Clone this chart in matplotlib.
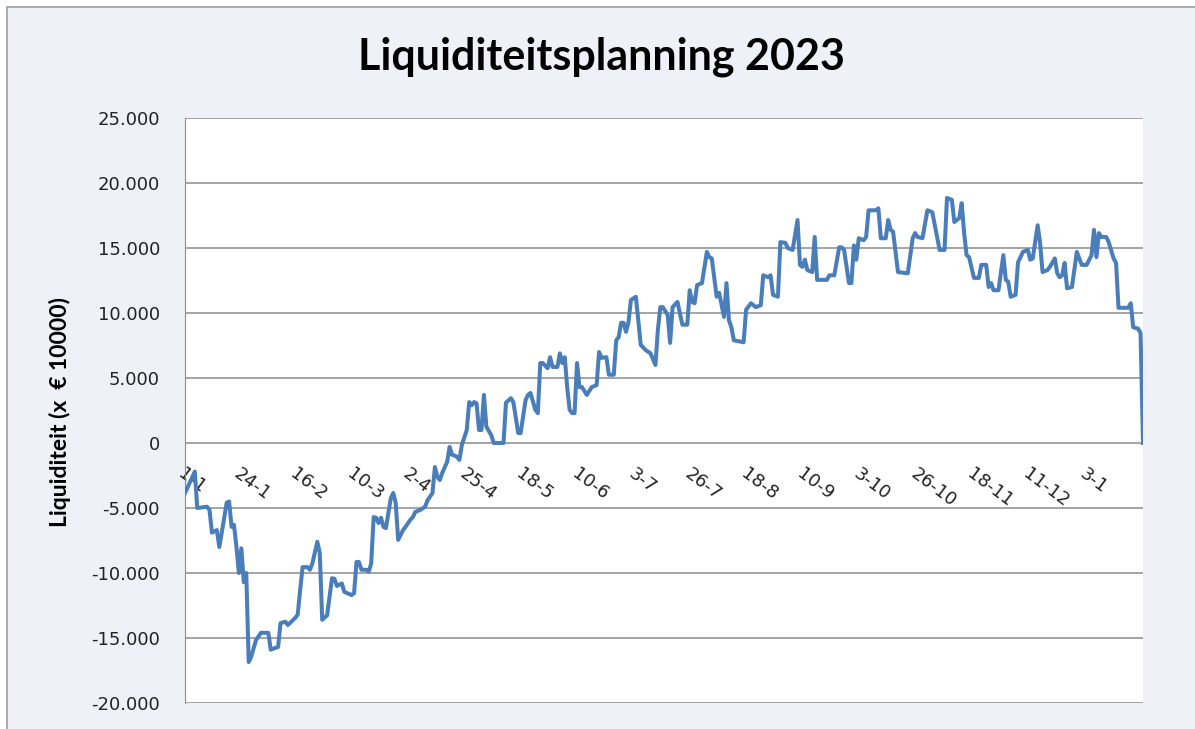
import matplotlib
import matplotlib.pyplot as plt
from matplotlib.patches import Rectangle
from matplotlib.ticker import FuncFormatter

matplotlib.use('agg')

# day index (0 = 1-1) and liquidity value at each turning point of the line
days = [0, 4, 5, 9, 10, 11, 13, 14, 15, 17, 18, 19, 20, 21, 22, 23, 24, 25, 26, 27,
        29, 31, 34, 35, 37, 38, 39, 41, 42, 45, 46, 47, 48, 50, 51, 52, 54, 55, 56, 58,
        60, 61, 62, 64, 65, 68, 69, 70, 71, 72, 74, 75, 76, 77, 78, 79, 80, 81, 82, 84,
        85, 86, 87, 89, 90, 92, 93, 94, 96, 98, 99, 101, 102, 103, 104, 105, 107, 108, 109, 111,
        112, 113, 115, 116, 117, 118, 119, 120, 121, 122, 123, 125, 126, 130, 131, 133, 134, 136, 137, 139,
        140, 141, 143, 144, 145, 146, 148, 149, 150, 152, 153, 154, 155, 156, 157, 158, 159, 160, 161, 162,
        164, 166, 168, 169, 170, 172, 173, 175, 176, 177, 178, 179, 180, 181, 182, 184, 185, 186, 188, 190,
        192, 193, 194, 195, 197, 198, 199, 201, 203, 205, 206, 207, 208, 209, 211, 213, 214, 215, 217, 218,
        220, 221, 222, 223, 224, 228, 229, 231, 233, 235, 236, 238, 239, 240, 242, 243, 245, 246, 248, 250,
        251, 252, 253, 254, 256, 257, 258, 262, 263, 265, 267, 268, 269, 271, 272, 273, 274, 275, 277, 278,
        279, 282, 283, 284, 286, 287, 288, 289, 291, 295, 297, 298, 299, 301, 303, 305, 308, 310, 311, 313,
        314, 316, 317, 318, 319, 320, 322, 324, 325, 327, 328, 329, 330, 332, 334, 335, 336, 337, 339, 340,
        342, 344, 345, 346, 348, 349, 350, 352, 353, 355, 356, 357, 358, 359, 360, 362, 364, 365, 366, 368,
        370, 371, 372, 373, 374, 376, 377, 379, 380, 381, 385, 386, 387, 389, 390, 391]

liquiditeit = [-3850, -2200, -5000, -4900, -5150, -6900, -6700, -8000, -6900, -4600,
               -4500, -6450, -6300, -8000, -10000, -8100, -10700, -10000, -16850, -16450,
               -15150, -14600, -14600, -15900, -15750, -15700, -13850, -13750, -14000, -13450,
               -13200, -11300, -9550, -9550, -9750, -9250, -7600, -8450, -13600, -13250,
               -10400, -10450, -11000, -10800, -11450, -11700, -11550, -9150, -9150, -9750,
               -9750, -9900, -9250, -5700, -5750, -6150, -5750, -6450, -6550, -4250,
               -3850, -4600, -7450, -6700, -6450, -5900, -5700, -5300, -5150, -4900,
               -4400, -3850, -1850, -2600, -2850, -2300, -1450, -300, -900, -1050,
               -1300, -150, 1000, 3150, 2900, 3150, 3050, 1000, 1000, 3700,
               1250, 600, 0, 0, 3100, 3450, 3150, 770, 770, 3300,
               3700, 3850, 2550, 2300, 6150, 6150, 5750, 6600, 5850, 5850,
               6900, 6150, 6600, 4250, 2550, 2300, 2300, 6150, 4300, 4300,
               3700, 4300, 4450, 7000, 6550, 6600, 5250, 5250, 7900, 8150,
               9250, 9250, 8550, 9300, 11000, 11250, 9450, 7550, 7150, 6900,
               6000, 8700, 10450, 10450, 9850, 7700, 10450, 10850, 9100, 9100,
               11750, 10850, 10750, 12150, 12300, 14700, 14300, 14200, 11250, 11550,
               9700, 12300, 9450, 8900, 7900, 7750, 10250, 10750, 10450, 10600,
               12900, 12750, 12900, 11400, 11250, 15450, 15400, 15000, 14850, 17150,
               13700, 13550, 14100, 13300, 13150, 15850, 12550, 12550, 12900, 12900,
               15050, 15050, 14850, 12300, 12300, 15200, 14100, 15750, 15600, 15850,
               17900, 17900, 18050, 15750, 15750, 17150, 16400, 16250, 13150, 13050,
               15750, 16150, 15850, 15750, 17900, 17750, 14850, 14850, 18850, 18700,
               17000, 17300, 18450, 16150, 14450, 14300, 12700, 12700, 13700, 13700,
               12000, 12300, 11750, 11750, 14450, 12550, 12400, 11250, 11400, 13900,
               14700, 14850, 14100, 14200, 16750, 15400, 13150, 13300, 13550, 14200,
               13050, 12750, 12900, 13850, 11900, 12000, 14700, 14200, 13700, 13700,
               14450, 16400, 14300, 16150, 15850, 15850, 15450, 14200, 13850, 10400,
               10400, 10750, 8900, 8800, 8450, 0]

tick_labels = ["1-1", "24-1", "16-2", "10-3", "2-4", "25-4", "18-5", "10-6", "3-7",
               "26-7", "18-8", "10-9", "3-10", "26-10", "18-11", "11-12", "3-1"]
tick_step = 23

W, H = 1195, 729
fig = plt.figure(figsize=(W / 100, H / 100), dpi=100, facecolor='white')

# chart area background with the grey frame (only left and top edges show)
fig.add_artist(Rectangle((7 / W, -0.1), 1.0, 1 - 7 / H + 0.1, transform=fig.transFigure,
                         facecolor='#EEF2F8', edgecolor='#A6A6A6', lw=1.3, zorder=-10))

ax = fig.add_axes([185 / W, 1 - 703 / H, (1143 - 185) / W, (703 - 118) / H])
ax.set_facecolor('white')

ax.plot(days, liquiditeit, color='#4A7EBB', lw=2.9, solid_joinstyle='round', zorder=3)

ax.set_xlim(0, 391)
ax.set_ylim(-20000, 25000)
ax.set_yticks(range(-20000, 25001, 5000))
ax.yaxis.set_major_formatter(FuncFormatter(lambda v, p: f"{int(v):,}".replace(",", ".")))
ax.set_xticks([i * tick_step for i in range(len(tick_labels))])
ax.set_xticklabels(tick_labels)

ax.grid(axis='y', color='#8C8C8C', lw=1.1)
ax.set_axisbelow(True)

for side in ['top', 'right']:
    ax.spines[side].set_visible(False)
ax.spines['left'].set_color('#8C8C8C')
ax.spines['bottom'].set_position(('data', 0))
ax.spines['bottom'].set_color('none')

ax.tick_params(axis='y', length=0, pad=18, labelsize=13, labelcolor='#222222')
ax.tick_params(axis='x', length=0, pad=16, labelsize=13, labelcolor='#222222')
plt.setp(ax.get_xticklabels(), rotation=-37, ha='left', va='top', rotation_mode='anchor')

fig.text(0.503, 1 - 57 / H, "Liquiditeitsplanning 2023", ha='center', va='center',
         fontsize=31, fontweight='bold', family='Lato')
fig.text(60 / W, 1 - 412 / H, "Liquiditeit (x  € 10000)", ha='center', va='center',
         rotation=90, fontsize=16.5, fontweight='bold', family='Lato')

fig.savefig('out.png', dpi=100)
plt.close(fig)
